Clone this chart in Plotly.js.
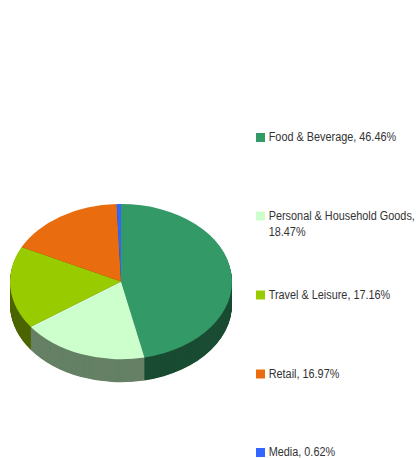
<!DOCTYPE html>
<html><head><meta charset="utf-8">
<script src="https://cdn.plot.ly/plotly-3.0.1.min.js"></script>
<style>html,body{margin:0;padding:0;background:#fff;overflow:hidden}</style>
</head><body><div id="chart" style="width:416px;height:458px"></div>
<script>
const categories = ["Food & Beverage","Personal & Household Goods","Travel & Leisure","Retail","Media"];
const shares = [46.46,18.47,17.16,16.97,0.62];
const colors = ["#339966","#CCFFCC","#99CC00","#E96D0F","#3366FF"];
const wallColors = ["#1A4C33","#668066","#4D6600","#753708","#1A3380"];
const legendLines = [["Food & Beverage, 46.46%"],["Personal & Household Goods,","18.47%"],["Travel & Leisure, 17.16%"],["Retail, 16.97%"],["Media, 0.62%"]];
const legendY = [137.5,216,295,374,452.5];

const W=416,H=458,cx=121,cy=281.6,R=111,tilt=77.6/111,depth=23,textX=267.5,squeeze=0.805;
function pie(offset,cols){
  const c=cy+offset/tilt;
  return {type:"pie",labels:categories,values:shares,sort:false,direction:"clockwise",rotation:0,
    textinfo:"none",hoverinfo:"none",showlegend:false,
    marker:{colors:cols,line:{width:0}},
    domain:{x:[(cx-R)/W,(cx+R)/W],y:[1-(c+R)/H,1-(c-R)/H]}};
}
const traces=[];
for(let d=depth;d>=1;d-=0.5)traces.push(pie(d,wallColors));
traces.push(pie(0,colors));

const annotations=[],shapes=[];
legendLines.forEach((lines,i)=>{
  shapes.push({type:"rect",xref:"paper",yref:"paper",x0:256/W,x1:265/W,
    y0:1-(legendY[i]+4.5)/H,y1:1-(legendY[i]-4.5)/H,fillcolor:colors[i],line:{width:0}});
  lines.forEach((t,j)=>annotations.push({text:t,xref:"paper",yref:"paper",showarrow:false,
    x:textX/W,y:1-(legendY[i]-1+j*17)/H,xanchor:"left",yanchor:"middle",align:"left",
    borderpad:0,font:{family:"'Liberation Sans',Arial,sans-serif",size:13.5,color:"#333333"}}));
});

Plotly.newPlot("chart",traces,{width:W,height:H,margin:{l:0,r:0,t:0,b:0},
  paper_bgcolor:"#fff",showlegend:false,annotations,shapes},{staticPlot:true,displayModeBar:false})
.then(()=>{
  document.querySelectorAll("#chart .pielayer").forEach(g=>
    g.setAttribute("transform",`translate(0 ${cy}) scale(1 ${tilt}) translate(0 ${-cy})`));
  document.querySelectorAll("#chart .annotation").forEach(g=>
    g.setAttribute("transform",`translate(${textX} 0) scale(${squeeze} 1) translate(${-textX} 0)`));
});
</script></body></html>
